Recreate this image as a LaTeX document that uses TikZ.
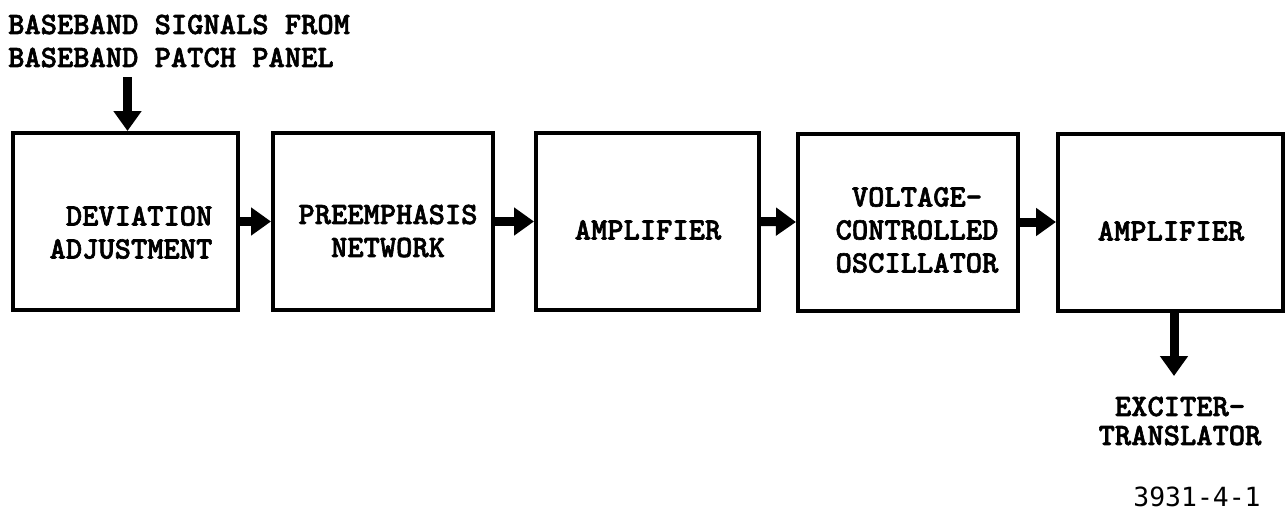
\documentclass[tikz,border=0pt]{standalone}
\usepackage{fontspec}
\usetikzlibrary{arrows.meta}
\newfontfamily\tw{lmmonolt10-bold.otf}[FakeBold=2]
\newfontfamily\twb{DejaVu Sans Mono}
\tikzset{
  blockbox/.style={draw=black, line width=4pt, minimum height=177pt, inner sep=0pt},
  lbl/.style={inner sep=0pt, font=\tw\fontsize{31}{33}\selectfont, align=center},
  flow/.style={line width=9pt, -{Triangle[length=20pt,width=27pt]}},
}
\begin{document}
\begin{tikzpicture}[x=1pt,y=-1pt]
\useasboundingbox (0,0) rectangle (1287,511);
% boxes
\node[blockbox, minimum width=225pt] (b1) at (125.5,221.5) {};
\node[blockbox, minimum width=220pt] (b2) at (383,221.5) {};
\node[blockbox, minimum width=223pt] (b3) at (647.5,221.5) {};
\node[blockbox, minimum width=220pt] (b4) at (908,222) {};
\node[blockbox, minimum width=225pt] (b5) at (1170.5,222) {};
% labels
\node[lbl, align=right] (t1) at (131,232.5) {DEVIATION\\ADJUSTMENT};
\node[lbl] (t2) at (388,231) {PREEMPHASIS\\NETWORK};
\node[lbl] (t3) at (648,230) {AMPLIFIER};
\node[lbl] (t4) at (917,230) {VOLTAGE-\\CONTROLLED\\OSCILLATOR};
\node[lbl] (t5) at (1171,231) {AMPLIFIER};
\node[lbl, align=left, anchor=west] (src) at (8,41) {BASEBAND SIGNALS FROM\\BASEBAND PATCH PANEL};
\node[lbl, font=\tw\fontsize{31}{29}\selectfont] (dst) at (1180,421) {EXCITER-\\TRANSLATOR};
\node[inner sep=0pt, font=\twb\fontsize{26.4}{28}\selectfont] (fig) at (1197,497) {3931-4-1};
% connectors
\coordinate (srcpt) at (127.5,77);
\coordinate (dstpt) at (1174,376);
\draw[flow] (srcpt) -- (srcpt |- b1.north);
\draw[flow] (b1.east) -- (b2.west);
\draw[flow] (b2.east) -- (b3.west);
\draw[flow] (b3.east) -- (b4.west);
\draw[flow] (b4.east) -- (b5.west);
\draw[flow] (b5.south -| dstpt) -- (dstpt);
\end{tikzpicture}
\end{document}
